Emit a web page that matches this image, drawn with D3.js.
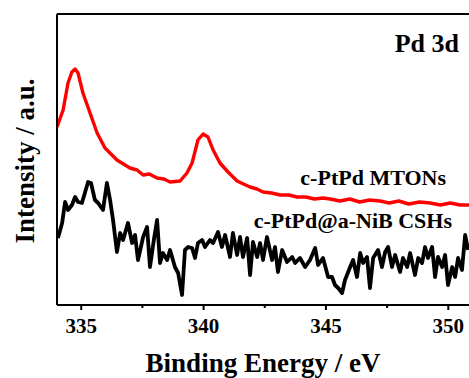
<!DOCTYPE html>
<html>
<head>
<meta charset="utf-8">
<script src="https://cdn.jsdelivr.net/npm/d3@7"></script>
<style>
  html, body { margin: 0; padding: 0; background: #fff; }
  svg { display: block; }
  text { font-family: "Liberation Serif", "Times New Roman", serif; font-weight: bold; fill: #000; }
</style>
</head>
<body>
<svg id="chart" width="469" height="378"></svg>
<script>
// ---- data (binding energy in eV, intensity in a.u.) ----
const majorTicks = [335, 340, 345, 350];
const minorTicks = [337.5, 342.5, 347.5];

const mtonsEnergy = [334.03, 334.28, 334.48, 334.64, 334.77, 334.89, 335.09, 335.38, 335.67, 335.99,
  336.48, 337.01, 337.30, 337.55, 337.80, 338.12, 338.40, 338.65, 339.06, 339.34, 339.55, 339.79,
  340.00, 340.20, 340.41, 340.69, 341.02, 341.39, 341.65, 341.92, 342.20, 342.45, 342.80, 343.15,
  343.50, 343.84, 344.20, 344.55, 344.90, 345.19, 345.60, 346.00, 346.40, 346.80, 347.23, 347.60,
  348.00, 348.40, 348.85, 349.28, 349.70, 350.10, 350.50, 350.87];
const mtonsIntensity = [178, 195, 222, 233, 236, 232, 212, 192, 172, 157,
  145, 137, 135, 130, 131, 127, 126, 123, 124, 132, 142, 165,
  171, 168, 155, 142, 133, 124, 121, 118, 116, 113, 112, 110,
  110, 108, 108, 106, 107, 106, 104, 106, 103, 105, 104, 102,
  104, 101, 103, 102, 100, 102, 100, 100];

const cshsEnergy = [334.07, 334.24, 334.36, 334.48, 334.64, 334.77, 334.89, 335.05, 335.18, 335.30,
  335.42, 335.58, 335.71, 335.91, 336.07, 336.20, 336.32, 336.48, 336.61, 336.73, 336.93, 337.10,
  337.22, 337.34, 337.55, 337.71, 337.83, 338.00, 338.12, 338.24, 338.36, 338.53, 338.65, 338.85,
  338.98, 339.14, 339.26, 339.39, 339.55, 339.67, 339.79, 339.96, 340.08, 340.28, 340.41, 340.61,
  340.77, 340.90, 341.10, 341.22, 341.39, 341.51, 341.63, 341.80, 341.92, 342.04, 342.21, 342.33,
  342.45, 342.61, 342.82, 342.94, 343.06, 343.23, 343.43, 343.64, 343.76, 343.96, 344.17, 344.37,
  344.58, 344.70, 344.90, 345.11, 345.27, 345.39, 345.52, 345.68, 345.80, 346.01, 346.13, 346.29,
  346.42, 346.54, 346.70, 346.82, 346.95, 347.15, 347.31, 347.44, 347.56, 347.72, 347.85, 348.05,
  348.17, 348.34, 348.46, 348.66, 348.79, 348.95, 349.07, 349.19, 349.36, 349.48, 349.60, 349.77,
  349.89, 350.01, 350.18, 350.30, 350.42, 350.58, 350.71, 350.83];
const cshsIntensity = [67, 82, 103, 95, 100, 108, 103, 102, 113, 123,
  122, 105, 102, 95, 122, 105, 85, 53, 72, 65, 82, 62,
  70, 45, 68, 78, 38, 67, 85, 42, 52, 45, 55, 38,
  32, 10, 55, 58, 57, 47, 62, 65, 58, 65, 62, 73,
  58, 70, 48, 72, 50, 68, 48, 67, 30, 63, 48, 62,
  45, 68, 45, 58, 33, 55, 43, 48, 42, 47, 38, 45,
  57, 40, 47, 28, 28, 20, 17, 12, 25, 38, 45, 28,
  52, 42, 48, 17, 47, 55, 38, 53, 58, 38, 50, 33,
  47, 38, 52, 30, 47, 42, 58, 47, 58, 28, 48, 38,
  50, 20, 38, 28, 47, 35, 70, 55];

const seriesNames = ["c-PtPd MTONs", "c-PtPd@a-NiB CSHs"];
const panelLabel = "Pd 3d";
const xTitle = "Binding Energy / eV";
const yTitle = "Intensity / a.u.";

// ---- chart ----
const svg = d3.select("#chart");
const mLeft = 57, mTop = 14, mBottom = 305, W = 469;
const x = d3.scaleLinear().domain([334.03, 351.5]).range([mLeft, mLeft + (351.5 - 334.03) * 24.47]);
const y = d3.scaleLinear().domain([0, 291]).range([mBottom, mTop]);

svg.append("defs").append("clipPath").attr("id", "plotclip")
  .append("rect").attr("x", mLeft).attr("y", mTop).attr("width", W - mLeft).attr("height", mBottom - mTop);

const line = d3.line().x(d => x(d[0])).y(d => y(d[1])).curve(d3.curveLinear);

const g = svg.append("g").attr("clip-path", "url(#plotclip)");
g.append("path")
  .datum(mtonsEnergy.map((e, i) => [e, mtonsIntensity[i]]))
  .attr("d", line).attr("fill", "none").attr("stroke", "#ff0000")
  .attr("stroke-width", 3.4).attr("stroke-linejoin", "round");
g.append("path")
  .datum(cshsEnergy.map((e, i) => [e, cshsIntensity[i]]))
  .attr("d", line).attr("fill", "none").attr("stroke", "#000")
  .attr("stroke-width", 3.8).attr("stroke-linejoin", "round");

// frame: top and left
svg.append("line").attr("x1", mLeft).attr("x2", W).attr("y1", mTop).attr("y2", mTop)
  .attr("stroke", "#000").attr("stroke-width", 2);
svg.append("line").attr("x1", mLeft).attr("x2", mLeft).attr("y1", mTop).attr("y2", mBottom)
  .attr("stroke", "#000").attr("stroke-width", 2);

// bottom axis
const xAxis = svg.append("g").attr("transform", `translate(0,${mBottom})`)
  .call(d3.axisBottom(x).tickValues(majorTicks).tickSize(5).tickPadding(8).tickSizeOuter(0).tickFormat(d3.format("d")));
xAxis.select(".domain").attr("stroke-width", 2).attr("d", `M${mLeft},0H${W}`);
xAxis.selectAll(".tick line").attr("stroke-width", 2);
xAxis.selectAll(".tick text").attr("font-size", 21).attr("font-family", null);

const xMinor = svg.append("g").attr("transform", `translate(0,${mBottom})`)
  .call(d3.axisBottom(x).tickValues(minorTicks).tickSize(3).tickFormat(""));
xMinor.select(".domain").remove();
xMinor.selectAll(".tick line").attr("stroke-width", 2);

// titles
svg.append("text").attr("x", 263).attr("y", 372).attr("text-anchor", "middle")
  .attr("font-size", 27).text(xTitle);
svg.append("text").attr("transform", "translate(34,161) rotate(-90)").attr("text-anchor", "middle")
  .attr("font-size", 27).text(yTitle);

// annotations
svg.append("text").attr("x", 459).attr("y", 52).attr("text-anchor", "end")
  .attr("font-size", 26).text(panelLabel);
svg.append("text").attr("x", 446).attr("y", 185).attr("text-anchor", "end")
  .attr("font-size", 22).text(seriesNames[0]);
svg.append("text").attr("x", 452).attr("y", 228).attr("text-anchor", "end")
  .attr("font-size", 22).text(seriesNames[1]);
</script>
</body>
</html>
